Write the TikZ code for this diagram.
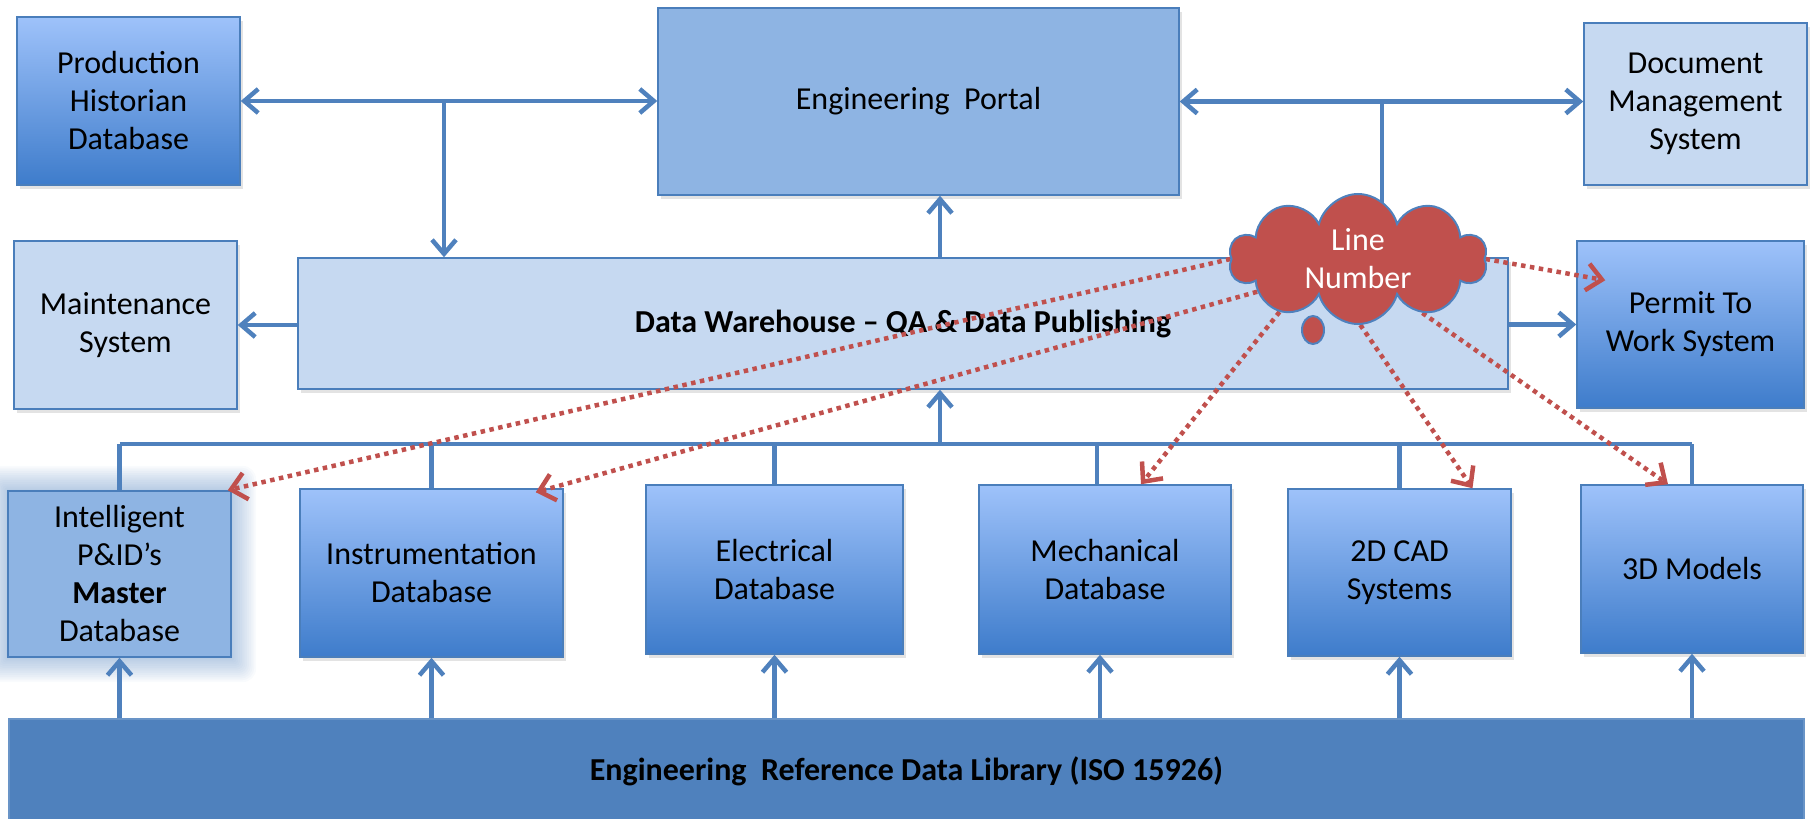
\documentclass[tikz,border=0pt]{standalone}
\usepackage{fontspec}
\setmainfont{Carlito}
\usetikzlibrary{arrows.meta,shapes.symbols,shadows,calc}
\pgfdeclarelayer{front}
\pgfsetlayers{main,front}

\definecolor{conn}{HTML}{4F81BD}
\definecolor{edge}{HTML}{4A7EBB}
\definecolor{palefill}{HTML}{C6D9F1}
\definecolor{midfill}{HTML}{8EB4E3}
\definecolor{gradtop}{HTML}{9EC2FA}
\definecolor{gradbot}{HTML}{3E7CCB}
\definecolor{redc}{HTML}{C0504D}

\newcommand\boxfont{\fontsize{32}{38}\selectfont}

\tikzset{
  plainbox/.style={draw=edge, line width=1.5pt, align=center, inner sep=0pt, font=\boxfont},
  box/.style={plainbox, drop shadow={shadow xshift=3pt, shadow yshift=-4pt, opacity=0.22}},
  gradbox/.style={box, top color=gradtop, bottom color=gradbot},
  palebox/.style={box, fill=palefill},
  midbox/.style={box, fill=midfill},
  link/.style={draw=conn, line width=4.5pt},
  arr/.style={link, -{Straight Barb[length=14pt,width=24pt]}},
  both/.style={link, {Straight Barb[length=14pt,width=24pt]}-{Straight Barb[length=14pt,width=24pt]}},
  redarr/.style={draw=redc, line width=4.5pt, dash pattern=on 4.5pt off 4.5pt,
                 -{Straight Barb[length=15pt,width=27pt]}},
}

\begin{document}
\begin{tikzpicture}[x=1pt,y=-1pt]
\useasboundingbox (0,0) rectangle (1816,819);

% soft glow round the master P&ID database
\foreach \g in {1,...,14}
  \fill[conn, opacity=0.035, rounded corners=\g pt]
    (8-\g*1.8, 491-\g*1.8) rectangle (231+\g*1.8, 657+\g*1.8);

% top row
\node[gradbox, minimum width=223pt, minimum height=168pt] (ph) at (128.5,101) {Production\\Historian\\Database};
\node[midbox, minimum width=521pt, minimum height=187pt] (ep) at (918.5,101.5) {Engineering\ \ Portal};
\node[palebox, minimum width=223pt, minimum height=162pt] (dm) at (1695.5,104) {Document\\Management\\System};

% middle row
\node[palebox, minimum width=223pt, minimum height=168pt] (ms) at (125.5,325) {Maintenance\\System};
\node[palebox, minimum width=1210pt, minimum height=131pt] (dw) at (903,323.5)
  {\raisebox{-5pt}{\bfseries Data Warehouse -- QA \& Data Publishing}};
\node[gradbox, minimum width=227pt, minimum height=167pt] (pw) at (1690.5,324.5) {Permit To\\Work System};

% source systems
\node[plainbox, fill=midfill, minimum width=223pt, minimum height=166pt] (ip) at (119.5,574) {Intelligent\\P\&ID’s\\\textbf{Master}\\Database};
\node[gradbox, minimum width=263pt, minimum height=168pt] (in) at (431.5,573) {Instrumentation\\Database};
\node[gradbox, minimum width=257pt, minimum height=169pt] (el) at (774.5,569.5) {Electrical\\Database};
\node[gradbox, minimum width=252pt, minimum height=169pt] (me) at (1105,569.5) {Mechanical\\Database};
\node[gradbox, minimum width=223pt, minimum height=167pt] (cad) at (1399.5,572.5) {2D CAD\\Systems};
\node[gradbox, minimum width=222pt, minimum height=168pt] (td) at (1692,569) {3D Models};

% reference data library
\node[plainbox, fill=conn, draw=conn!85!white, minimum width=1795pt, minimum height=104pt] (er) at (906.5,771)
  {\bfseries Engineering\ \ Reference Data Library (ISO 15926)};

% line number cloud (kept on the front layer)
\begin{pgfonlayer}{front}
  \draw[conn, line width=2pt, fill=redc] (1313,330) ellipse [x radius=11, y radius=14];
  \node[cloud, cloud puffs=10, aspect=2, draw=conn, line width=2pt, fill=redc, text=white,
        minimum width=258pt, minimum height=130pt, inner sep=0pt, align=center, font=\boxfont]
        (ln) at (1358,259) {Line\\Number};
\end{pgfonlayer}

% top connectors
\coordinate (j1) at ($(ph.east)!0.488!(ph.east -| ep.west)$);
\coordinate (j2) at ($(ep.east)!0.501!(ep.east -| dm.west)$);
\draw[both] (ph.east) -- (ph.east -| ep.west);
\draw[arr] (j1) -- (j1 |- dw.north);
\draw[both] (ep.east) -- (ep.east -| dm.west);
\draw[link] (j2) -- (j2 |- ln.center);

% warehouse outputs
\draw[arr] (dw.west |- ms.east) -- (ms.east);
\draw[arr] (dw.east |- pw.west) -- (pw.west);

% collection bus
\coordinate (bus) at (0,444);
\coordinate (sp) at (940,444);
\coordinate (mtop) at ([xshift=-8pt]me.north);
\draw[arr] (sp |- dw.north) -- (sp |- ep.south);
\draw[link] (ip.north |- bus) -- (td.north |- bus);
\foreach \b in {ip,in,el,cad,td}
  \draw[link] (\b.north |- bus) -- (\b.north);
\draw[link] (mtop |- bus) -- (mtop);
\draw[arr] (sp) -- (sp |- dw.south);

% feeds from the reference data library
\foreach \b in {ip,in,el,cad,td}
  \draw[arr] (\b.south |- er.north) -- (\b.south);
\draw[arr] ([xshift=-5pt]me.south |- er.north) -- ([xshift=-5pt]me.south);

% line number links
\coordinate (t1) at ([xshift=-4pt]ip.north east);
\coordinate (t2) at ([xshift=-28pt,yshift=-4pt]in.north east);
\coordinate (t3) at ([xshift=36pt]me.north);
\coordinate (t4) at ([xshift=73pt]cad.north);
\coordinate (t5) at ([xshift=-24pt]td.north);
\coordinate (t6) at ([xshift=29pt,yshift=-40pt]pw.north west);
\foreach \a/\t in {180/t1, 198/t2, 214/t3, 272/t4, 320/t5, 0/t6}
  \draw[redarr] (ln.\a) -- (\t);
\end{tikzpicture}
\end{document}
